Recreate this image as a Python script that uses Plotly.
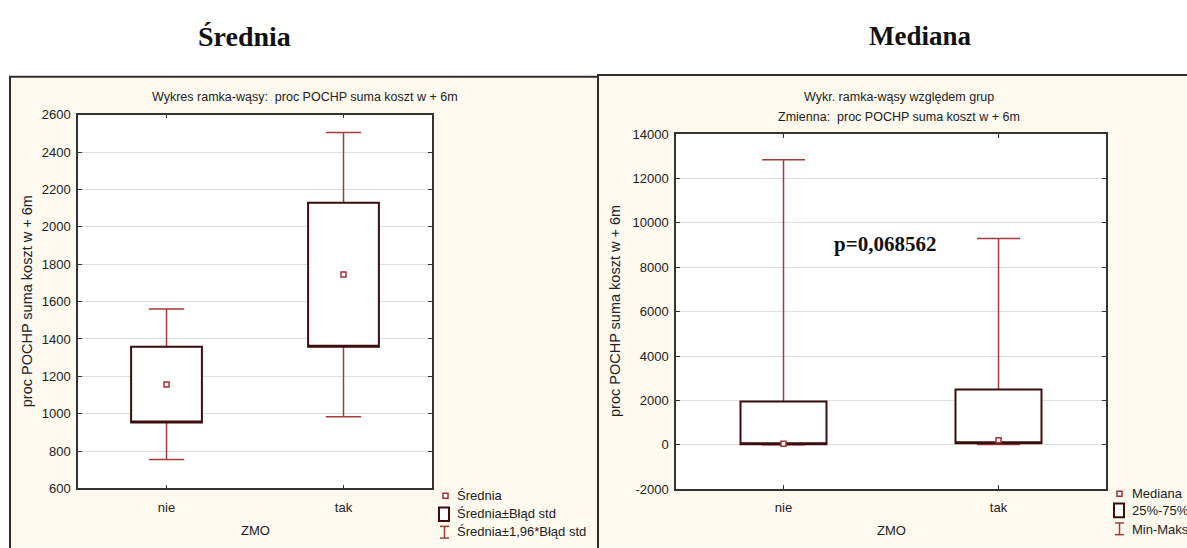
import plotly.graph_objects as go

# ---------------- data ----------------
categories = ["nie", "tak"]

# left panel: mean, mean±SE (box), mean±1.96*SE (whiskers)
left_mean = [1156, 1745]
left_se_low = [953, 1358]
left_se_high = [1358, 2129]
left_ci_low = [755, 984]
left_ci_high = [1560, 2505]

# right panel: median, quartiles (box), min-max (whiskers)
right_median = [50, 200]
right_q1 = [20, 70]
right_q3 = [1945, 2490]
right_min = [0, 10]
right_max = [12850, 9300]

left_yticks = list(range(600, 2601, 200))
right_yticks = list(range(-2000, 14001, 2000))

# ---------------- style ----------------
W, H = 1187, 548
CREAM = "#fdf9ef"
BOX_COL = "#3b0d0d"
WH_COL = "#a23d3d"
MK_COL = "#a3303a"
GRID = "#dedede"
AXC = "#333333"
SANS = "Liberation Sans, Arial, sans-serif"
SERIF = "Liberation Serif, Times New Roman, serif"


def px(x):
    return x / W


def py(y):
    return 1 - y / H


fig = go.Figure()


def add_panel(xa, ya, lo_box, hi_box, lo_wh, hi_wh, center, name):
    # whiskers (degenerate box at centre, whiskers to extremes, with caps)
    fig.add_trace(go.Box(
        x=categories, q1=center, median=center, q3=center,
        lowerfence=lo_wh, upperfence=hi_wh,
        width=0.4, whiskerwidth=0.5,
        line=dict(color=WH_COL, width=1.5), fillcolor="white",
        boxpoints=False, hoverinfo="skip", showlegend=False,
        xaxis=xa, yaxis=ya, name=name + "w"))
    # box
    fig.add_trace(go.Box(
        x=categories, q1=lo_box, median=lo_box, q3=hi_box,
        lowerfence=lo_box, upperfence=hi_box,
        width=0.4, whiskerwidth=0,
        line=dict(color=BOX_COL, width=2), fillcolor="white",
        boxpoints=False, hoverinfo="skip", showlegend=False,
        xaxis=xa, yaxis=ya, name=name + "b"))
    # centre marker
    fig.add_trace(go.Scatter(
        x=categories, y=center, mode="markers",
        marker=dict(symbol="square", size=5, color="white",
                    line=dict(color=MK_COL, width=1.5)),
        hoverinfo="skip", showlegend=False, xaxis=xa, yaxis=ya))


add_panel("x", "y", left_se_low, left_se_high, left_ci_low, left_ci_high, left_mean, "L")
add_panel("x2", "y2", right_q1, right_q3, right_min, right_max, right_median, "R")

axis_common = dict(
    showline=True, linecolor=AXC, linewidth=1.5, mirror="ticks",
    ticks="inside", ticklen=4, tickcolor=AXC, tickwidth=1,
    tickfont=dict(family=SANS, size=13, color="#222"),
    zeroline=False, fixedrange=True,
)

fig.update_layout(
    width=W, height=H,
    margin=dict(l=0, r=0, t=0, b=0),
    paper_bgcolor="white",
    plot_bgcolor="rgba(0,0,0,0)",
    boxmode="overlay",
    showlegend=False,
    xaxis=dict(domain=[px(78), px(432)], type="category", range=[-0.5, 1.5],
               showgrid=False, ticklabelstandoff=6, anchor="y", **axis_common),
    yaxis=dict(domain=[py(495), py(110.7)], range=[600, 2600],
               tickvals=left_yticks, ticktext=[str(v) for v in left_yticks],
               showgrid=True, gridcolor=GRID, gridwidth=1,
               ticklabelstandoff=3, anchor="x", **axis_common),
    xaxis2=dict(domain=[px(676), px(1106)], type="category", range=[-0.5, 1.5],
                showgrid=False, ticklabelstandoff=6, anchor="y2", **axis_common),
    yaxis2=dict(domain=[py(495.7), py(130.7)], range=[-2000, 14000],
                tickvals=right_yticks, ticktext=[str(v) for v in right_yticks],
                showgrid=True, gridcolor=GRID, gridwidth=1,
                ticklabelstandoff=3, anchor="x2", **axis_common),
)

shapes = [
    # panel backgrounds / frames
    dict(type="rect", xref="paper", yref="paper", layer="below",
         x0=px(10), x1=px(598), y0=py(570), y1=py(71.7),
         fillcolor=CREAM, line=dict(color="#2f2f2f", width=2)),
    dict(type="rect", xref="paper", yref="paper", layer="below",
         x0=px(598), x1=px(1200), y0=py(570), y1=py(70),
         fillcolor=CREAM, line=dict(color="#2f2f2f", width=2)),
    # white plot areas
    dict(type="rect", xref="x domain", yref="y domain", layer="below",
         x0=0, x1=1, y0=0, y1=1, fillcolor="white", line=dict(width=0)),
    dict(type="rect", xref="x2 domain", yref="y2 domain", layer="below",
         x0=0, x1=1, y0=0, y1=1, fillcolor="white", line=dict(width=0)),
]


def legend_icons(x_mk, y_mk, x_box, y_box, x_wh, y_wh):
    out = []
    # marker icon
    out.append(dict(type="rect", xref="paper", yref="paper",
                    x0=px(x_mk - 2.5), x1=px(x_mk + 2.5), y0=py(y_mk + 2.5), y1=py(y_mk - 2.5),
                    fillcolor="white", line=dict(color=MK_COL, width=1.5)))
    # box icon
    out.append(dict(type="rect", xref="paper", yref="paper",
                    x0=px(x_box - 5), x1=px(x_box + 5), y0=py(y_box + 7), y1=py(y_box - 7),
                    fillcolor="white", line=dict(color=BOX_COL, width=2)))
    # whisker icon
    out.append(dict(type="line", xref="paper", yref="paper",
                    x0=px(x_wh), x1=px(x_wh), y0=py(y_wh - 6), y1=py(y_wh + 6),
                    line=dict(color=WH_COL, width=1.5)))
    for dy in (-6, 6):
        out.append(dict(type="line", xref="paper", yref="paper",
                        x0=px(x_wh - 4.5), x1=px(x_wh + 4.5), y0=py(y_wh + dy), y1=py(y_wh + dy),
                        line=dict(color=WH_COL, width=1.5)))
    return out


shapes += legend_icons(445.5, 502.5, 444, 521.5, 444.5, 540)
shapes += legend_icons(1119.5, 500.5, 1119, 517.5, 1119.5, 536.5)
fig.update_layout(shapes=shapes)

ann = []


def text(x, y, s, size=13, family=SANS, bold=False, xanchor="center", textangle=0, color="#222"):
    ann.append(dict(xref="paper", yref="paper", x=px(x), y=py(y), text=("<b>%s</b>" % s) if bold else s,
                    showarrow=False, xanchor=xanchor, yanchor="middle", textangle=textangle,
                    font=dict(family=family, size=size, color=color)))


# big headings
text(244.5, 30, "Średnia", size=28, family=SERIF, bold=True, color="#111")
text(920, 30, "Mediana", size=27, family=SERIF, bold=True, color="#111")
# chart titles
text(305, 92.5, "Wykres ramka-wąsy:  proc POCHP suma koszt w + 6m", size=12.5)
text(899, 92.5, "Wykr. ramka-wąsy względem grup", size=12.5)
text(899, 113, "Zmienna:  proc POCHP suma koszt w + 6m", size=12.5)
# axis titles
text(27, 302.5, "proc POCHP suma koszt w + 6m", size=14.5, textangle=-90)
text(615, 312.5, "proc POCHP suma koszt w + 6m", size=14.5, textangle=-90)
text(255, 538, "ZMO")
text(891, 538, "ZMO")
# p value
text(885, 244, "p=0,068562", size=21, family=SERIF, bold=True, color="#111")
# legends
text(455, 502.5, "Średnia", xanchor="left")
text(455, 521, "Średnia±Błąd std", xanchor="left")
text(455, 539.5, "Średnia±1,96*Błąd std", xanchor="left")
text(1130, 500.5, "Mediana", xanchor="left")
text(1130, 518, "25%-75%", xanchor="left")
text(1130, 537.5, "Min-Maks", xanchor="left")

fig.update_layout(annotations=ann)

fig.write_html("out.html")
